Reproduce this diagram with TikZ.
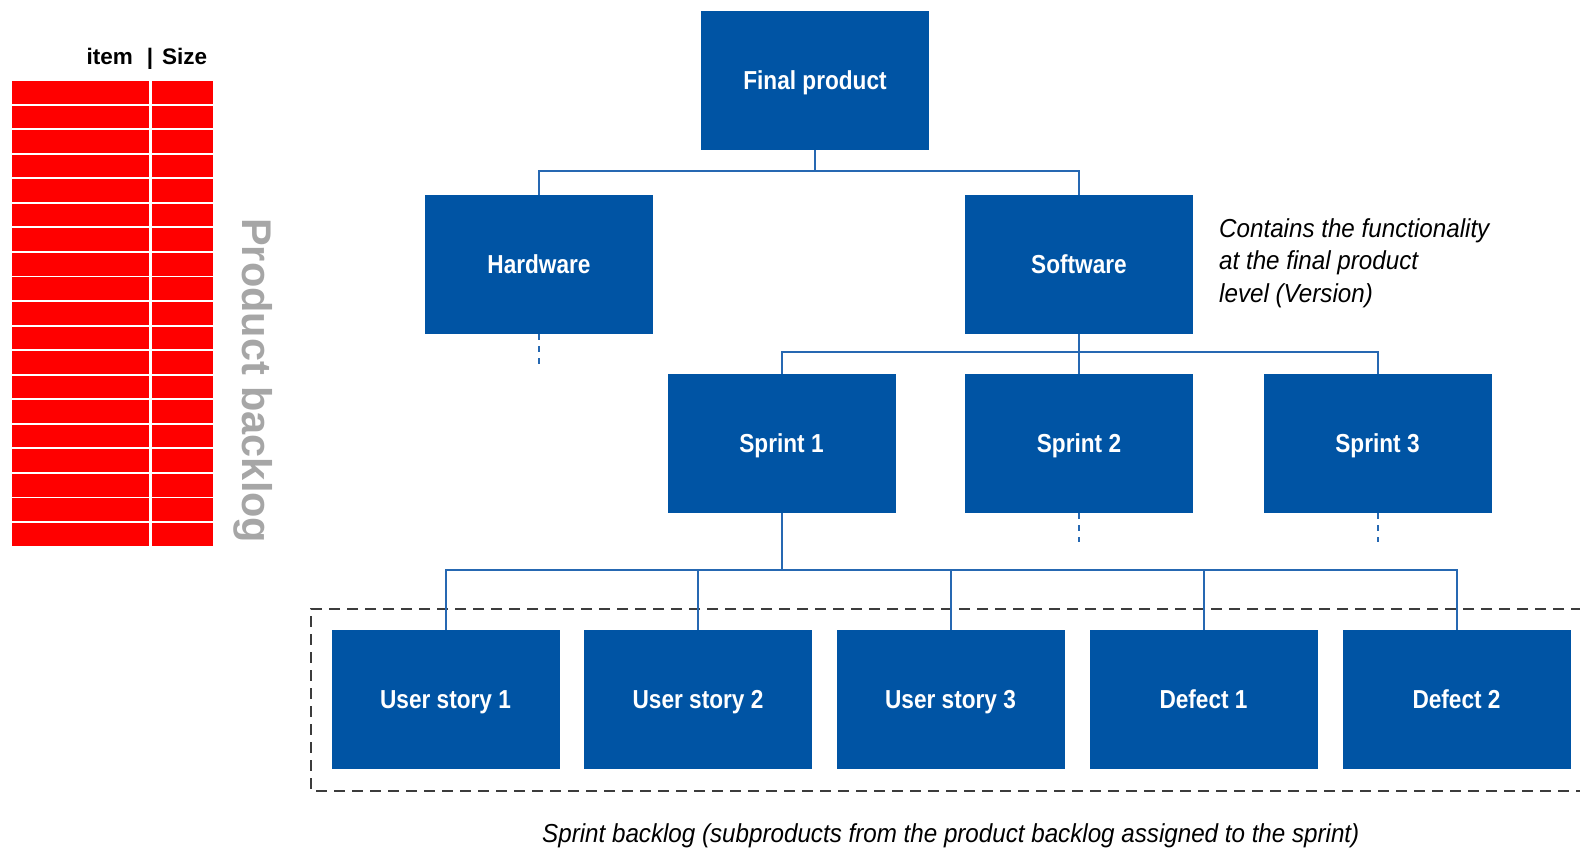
\documentclass[tikz,border=0pt]{standalone}
\usepackage{fontspec}
\setmainfont{Liberation Sans}
\newfontfamily\boxfont[FakeStretch=0.87]{Liberation Sans}
\newfontfamily\notefont[FakeStretch=0.93]{Liberation Sans}
\definecolor{boxblue}{RGB}{0,84,164}
\definecolor{lineblue}{RGB}{38,104,178}
\definecolor{backlogred}{RGB}{255,0,0}
\definecolor{backloggray}{RGB}{166,166,166}
\definecolor{framegray}{RGB}{60,60,60}

\begin{document}
\begin{tikzpicture}[x=1pt,y=-1pt,
  wbs/.style={fill=boxblue, draw=none, minimum width=228pt, minimum height=139pt,
    inner sep=0pt, text=white, font=\boxfont\bfseries\fontsize{26}{30}\selectfont,
    text height=18.5pt, text depth=0pt},
  tree/.style={draw=lineblue, line width=2pt},
  cont/.style={draw=lineblue, line width=2pt, dash pattern=on 6pt off 6pt},
  cell/.style={fill=backlogred},
  head/.style={inner sep=0pt, font=\bfseries\fontsize{22.5}{26}\selectfont},
  note/.style={inner sep=0pt, anchor=base west, font=\notefont\itshape\fontsize{26}{32}\selectfont},
  frame/.style={draw=framegray, line width=2pt, dash pattern=on 11pt off 7pt},
]
\useasboundingbox (0,0) rectangle (1580,847);
\clip (0,0) rectangle (1580,847);

% product backlog table
\node[head, anchor=base east] (itemhd) at (133,64) {item};
\node[head, anchor=base] (barhd) at (150,64) {|};
\node[head, anchor=base west] (sizehd) at (162,64) {Size};
\foreach \i in {0,...,18} {
  \fill[cell] (12,81+24.55*\i) rectangle (149,103.7+24.55*\i);
  \fill[cell] (152,81+24.55*\i) rectangle (213,103.7+24.55*\i);
}
\node[rotate=-90, anchor=base west, inner sep=0pt, text=backloggray,
  font=\bfseries\fontsize{41.5}{45}\selectfont] (pb) at (242,218) {Product backlog};

% sprint backlog frame
\draw[frame] (1600,609) -- (311,609) -- (311,791) -- (1600,791);

% work breakdown boxes
\node[wbs] (final) at (815,80.5) {Final product};
\node[wbs] (hw) at (539,264.5) {Hardware};
\node[wbs] (sw) at (1079,264.5) {Software};
\node[wbs] (s1) at (781.5,443.5) {Sprint 1};
\node[wbs] (s2) at (1079,443.5) {Sprint 2};
\node[wbs] (s3) at (1377.5,443.5) {Sprint 3};
\node[wbs] (us1) at (445.5,699.5) {User story 1};
\node[wbs] (us2) at (698,699.5) {User story 2};
\node[wbs] (us3) at (950.5,699.5) {User story 3};
\node[wbs] (d1) at (1203.5,699.5) {Defect 1};
\node[wbs] (d2) at (1456.5,699.5) {Defect 2};

% junctions
\coordinate (j1) at (815,171);
\coordinate (j2) at (1079,352);
\coordinate (j3) at (781.5,570);

% tree connectors
\draw[tree] (final.south) -- (j1);
\draw[tree] (hw.north) |- (j1) -| (sw.north);
\draw[tree] (sw.south) -- (j2);
\draw[tree] (s1.north) |- (j2) -| (s3.north);
\draw[tree] (j2) -- (s2.north);
\draw[tree] (s1.south) -- (j3);
\draw[tree] (us1.north) |- (j3) -| (d2.north);
\draw[tree] (us2.north) -- (us2.north |- j3);
\draw[tree] (us3.north) -- (us3.north |- j3);
\draw[tree] (d1.north) -- (d1.north |- j3);

% open continuations
\path (hw.south) ++(0,31) coordinate (hwend);
\path (s2.south) ++(0,29) coordinate (s2end);
\path (s3.south) ++(0,29) coordinate (s3end);
\draw[cont] (hw.south) -- (hwend);
\draw[cont] (s2.south) -- (s2end);
\draw[cont] (s3.south) -- (s3end);

% annotations
\node[note] (n1) at (1219,237) {Contains the functionality};
\node[note] (n2) at (1219,269.5) {at the final product};
\node[note] (n3) at (1219,302) {level (Version)};
\node[note] (sb) at (542,842) {Sprint backlog (subproducts from the product backlog assigned to the sprint)};
\end{tikzpicture}
\end{document}
